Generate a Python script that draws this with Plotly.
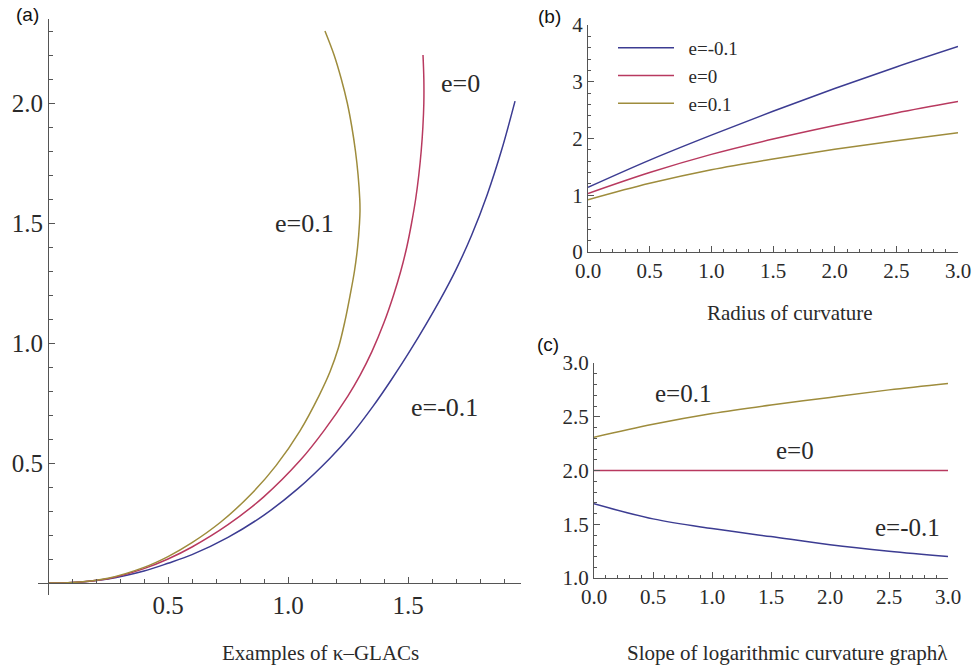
import plotly.graph_objects as go

W, H = 975, 670

# ---------- Panel (a): examples of kappa-GLACs ----------
a_olive_x = [0, 0.1, 0.25, 0.4, 0.5, 0.6, 0.72, 0.85, 0.95, 1.05, 1.13, 1.175, 1.21, 1.237, 1.259, 1.277, 1.290, 1.298, 1.300,
             1.299, 1.292, 1.281, 1.266, 1.247, 1.222, 1.192, 1.154]
a_olive_y = [0, 0.002, 0.02, 0.065, 0.11, 0.168, 0.254, 0.374, 0.489, 0.634, 0.782, 0.88, 0.98, 1.09, 1.2, 1.3, 1.4, 1.5, 1.55,
             1.6, 1.7, 1.8, 1.9, 2.0, 2.1, 2.2, 2.30]
a_red_x = [0, 0.1, 0.25, 0.4, 0.5, 0.6, 0.75, 0.9, 1.05, 1.15, 1.25, 1.30, 1.35, 1.40, 1.44, 1.47, 1.495, 1.515,
           1.532, 1.545, 1.555, 1.562, 1.566, 1.566, 1.5625]
a_red_y = [0, 0.002, 0.018, 0.06, 0.10, 0.15, 0.243, 0.36, 0.51, 0.635, 0.78, 0.865, 0.965, 1.085, 1.20, 1.30, 1.40, 1.50,
           1.60, 1.70, 1.80, 1.90, 2.0, 2.1, 2.2]
a_blue_x = [0, 0.1, 0.25, 0.4, 0.5, 0.6, 0.75, 0.9, 1.04, 1.175, 1.26, 1.354, 1.43, 1.51, 1.633, 1.70,
            1.765, 1.83, 1.89, 1.946]
a_blue_y = [0, 0.002, 0.017, 0.05, 0.082, 0.118, 0.19, 0.283, 0.392, 0.52, 0.6135, 0.736, 0.846, 0.97, 1.179, 1.306,
            1.449, 1.618, 1.804, 2.008]

# ---------- Panel (b): radius of curvature ----------
b_x = [0, 0.5, 1.0, 1.5, 2.0, 2.5, 3.0]
b_blue = [1.14, 1.62, 2.06, 2.48, 2.88, 3.26, 3.62]
b_red = [1.03, 1.40, 1.72, 1.99, 2.23, 2.45, 2.65]
b_olive = [0.92, 1.21, 1.45, 1.64, 1.81, 1.96, 2.10]

# ---------- Panel (c): slope of LCG ----------
c_x = [0, 0.5, 1.0, 1.5, 2.0, 2.5, 3.0]
c_olive = [2.31, 2.43, 2.53, 2.61, 2.68, 2.75, 2.81]
c_red = [2.0, 2.0, 2.0, 2.0, 2.0, 2.0, 2.0]
c_blue = [1.69, 1.55, 1.46, 1.385, 1.31, 1.25, 1.20]

names = ["e=-0.1", "e=0", "e=0.1"]
BLUE, RED, OLIVE = "#3c3c92", "#b8395f", "#9e8c3c"
SERIF = "Liberation Serif"
SANS = "Liberation Sans"
TXT = "#2a2a2a"
AX = "#555555"
LW = 1.5

fig = go.Figure()
# panel a
for xs, ys, col in [(a_blue_x, a_blue_y, BLUE), (a_red_x, a_red_y, RED), (a_olive_x, a_olive_y, OLIVE)]:
    fig.add_trace(go.Scatter(x=xs, y=ys, mode="lines", line=dict(color=col, width=LW, shape="spline", smoothing=1.0),
                             xaxis="x", yaxis="y", showlegend=False, hoverinfo="skip"))
# panel b
for ys, col, nm in zip([b_blue, b_red, b_olive], [BLUE, RED, OLIVE], names):
    fig.add_trace(go.Scatter(x=b_x, y=ys, mode="lines", name="\u00a0\u00a0" + nm,
                             line=dict(color=col, width=LW, shape="spline"),
                             xaxis="x2", yaxis="y2", showlegend=True, hoverinfo="skip"))
# panel c
for ys, col in zip([c_blue, c_red, c_olive], [BLUE, RED, OLIVE]):
    fig.add_trace(go.Scatter(x=c_x, y=ys, mode="lines", line=dict(color=col, width=LW, shape="spline"),
                             xaxis="x3", yaxis="y3", showlegend=False, hoverinfo="skip"))


def px_x(p):
    return p / W


def px_y(p):
    return 1 - p / H


common = dict(showgrid=False, zeroline=False, showline=True, linecolor=AX, linewidth=1,
              ticks="inside", tickcolor=AX, ticklen=6, tickwidth=1, automargin=False,
              fixedrange=True)

fig.update_layout(
    xaxis=dict(**common, domain=[px_x(38.4), px_x(520.8)], range=[-0.04, 1.97],
               anchor="free", position=px_y(583),
               tickvals=[0.5, 1.0, 1.5], ticktext=["0.5", "1.0", "1.5"],
               tickfont=dict(family=SERIF, size=25, color=TXT),
               minor=dict(ticks="inside", dtick=0.1, tick0=0, ticklen=4, tickcolor=AX)),
    yaxis=dict(**common, domain=[px_y(595), px_y(19)], range=[-0.05, 2.35],
               anchor="free", position=px_x(48),
               tickvals=[0.5, 1.0, 1.5, 2.0], ticktext=["0.5", "1.0", "1.5", "2.0"],
               tickfont=dict(family=SERIF, size=25, color=TXT),
               minor=dict(ticks="inside", dtick=0.1, tick0=0, ticklen=4, tickcolor=AX)),
    xaxis2=dict(**common, domain=[px_x(588), px_x(958)], range=[0, 3], anchor="y2",
                tickvals=[0, 0.5, 1.0, 1.5, 2.0, 2.5, 3.0], tickformat=".1f",
                tickfont=dict(family=SERIF, size=21, color=TXT),
                minor=dict(ticks="inside", dtick=0.1, tick0=0, ticklen=3, tickcolor=AX)),
    yaxis2=dict(**common, domain=[px_y(252), px_y(25)], range=[0, 4], anchor="x2",
                tickvals=[0, 1, 2, 3, 4],
                tickfont=dict(family=SERIF, size=21, color=TXT),
                minor=dict(ticks="inside", dtick=0.2, tick0=0, ticklen=3, tickcolor=AX)),
    xaxis3=dict(**common, domain=[px_x(594), px_x(948)], range=[0, 3], anchor="y3",
                tickvals=[0, 0.5, 1.0, 1.5, 2.0, 2.5, 3.0], tickformat=".1f",
                tickfont=dict(family=SERIF, size=21, color=TXT),
                minor=dict(ticks="inside", dtick=0.1, tick0=0, ticklen=3, tickcolor=AX)),
    yaxis3=dict(**common, domain=[px_y(578), px_y(363)], range=[1, 3], anchor="x3",
                tickvals=[1.0, 1.5, 2.0, 2.5, 3.0], tickformat=".1f",
                tickfont=dict(family=SERIF, size=21, color=TXT),
                minor=dict(ticks="inside", dtick=0.1, tick0=1, ticklen=3, tickcolor=AX)),
)

ann = []
# curve labels in (a)
for txt, x, y in [("e=0", 1.72, 2.08), ("e=0.1", 1.07, 1.5), ("e=-0.1", 1.65, 0.73)]:
    ann.append(dict(text=txt, x=x, y=y, xref="x", yref="y", showarrow=False,
                    xanchor="center", yanchor="middle",
                    font=dict(family=SERIF, size=26, color=TXT)))
# curve labels in (c)
for txt, x, y in [("e=0.1", 0.75, 2.72), ("e=0", 1.70, 2.19), ("e=-0.1", 2.66, 1.47)]:
    ann.append(dict(text=txt, x=x, y=y, xref="x3", yref="y3", showarrow=False,
                    xanchor="center", yanchor="middle",
                    font=dict(family=SERIF, size=25, color=TXT)))
# axis titles
for txt, x, y in [("Examples of κ–GLACs", 320, 653), ("Radius of curvature", 790, 313),
                  ("Slope of logarithmic curvature graphλ", 787, 653)]:
    ann.append(dict(text=txt, x=px_x(x), y=px_y(y), xref="paper", yref="paper", showarrow=False,
                    xanchor="center", yanchor="middle",
                    font=dict(family=SERIF, size=21, color=TXT)))
# panel labels
for txt, x, y in [("(a)", 27, 15), ("(b)", 549, 16), ("(c)", 548, 344)]:
    ann.append(dict(text=txt, x=px_x(x), y=px_y(y), xref="paper", yref="paper", showarrow=False,
                    xanchor="center", yanchor="middle",
                    font=dict(family=SANS, size=19, color="#111111")))

fig.update_layout(
    annotations=ann,
    width=W, height=H,
    margin=dict(l=0, r=0, t=0, b=0),
    paper_bgcolor="white", plot_bgcolor="white",
    legend=dict(x=px_x(613), y=px_y(29), xanchor="left", yanchor="top",
                bgcolor="rgba(0,0,0,0)", font=dict(family=SERIF, size=19, color=TXT),
                itemwidth=56, tracegroupgap=0),
)

fig.write_html("out.html", config={"displayModeBar": False},
               post_script="document.body.style.margin='0';")
